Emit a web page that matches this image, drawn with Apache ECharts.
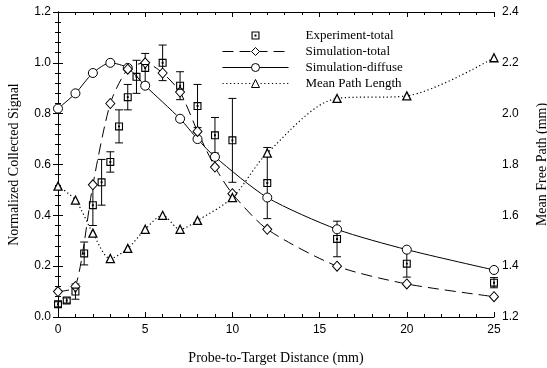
<!DOCTYPE html>
<html><head><meta charset="utf-8">
<script src="https://cdn.jsdelivr.net/npm/echarts@6/dist/echarts.min.js"></script>
<style>html,body{margin:0;padding:0;background:#fff}#c{width:547px;height:368px}</style>
</head><body><div id="c"></div>
<script>
// Experiment-total (with error bars)
const expX = [0, 0.5, 1, 1.5, 2, 2.5, 3, 3.5, 4, 4.5, 5, 6, 7, 8, 9, 10, 12, 16, 20, 25];
const expY = [0.05, 0.065, 0.10, 0.25, 0.44, 0.53, 0.61, 0.75, 0.865, 0.945, 0.98, 1.0, 0.91, 0.83, 0.715, 0.695, 0.527, 0.307, 0.21, 0.135];
const expErr = [0.01, 0.01, 0.03, 0.045, 0.08, 0.09, 0.04, 0.065, 0.05, 0.065, 0.057, 0.07, 0.055, 0.085, 0.07, 0.165, 0.14, 0.07, 0.053, 0.02];
// Simulation-total
const simTotX = [0, 1, 2, 3, 4, 5, 6, 7, 8, 9, 10, 12, 16, 20, 25];
const simTotY = [0.10, 0.12, 0.52, 0.84, 0.975, 1.0, 0.96, 0.885, 0.73, 0.59, 0.485, 0.345, 0.20, 0.13, 0.08];
// Simulation-diffuse
const simDifX = [0, 1, 2, 3, 4, 5, 7, 8, 9, 12, 16, 20, 25];
const simDifY = [0.82, 0.88, 0.96, 1.0, 0.98, 0.91, 0.78, 0.70, 0.63, 0.47, 0.345, 0.265, 0.185];
// Mean Path Length (right axis, mm)
const mplX = [0, 1, 2, 3, 4, 5, 6, 7, 8, 10, 12, 16, 20, 25];
const mplY = [1.715, 1.66, 1.53, 1.43, 1.47, 1.545, 1.60, 1.545, 1.58, 1.67, 1.845, 2.06, 2.07, 2.22];
// Axis ticks
const xTicks = {min: 0, max: 25, interval: 5};
const yLeftTicks = {min: 0, max: 1.2, interval: 0.2};
const yRightTicks = {min: 1.2, max: 2.4, interval: 0.2};

const zip = (xs, ys) => xs.map((x, i) => [x, ys[i]]);
const errData = expX.map((x, i) => [x, expY[i] - expErr[i], expY[i] + expErr[i]]);

const SANS = 'Liberation Sans, Arial, sans-serif';
const SERIF = 'Liberation Serif, Times New Roman, serif';
const axisCommon = {
  axisLine: {show: true, lineStyle: {color: '#000', width: 1}},
  axisTick: {show: true, inside: true, length: 5, lineStyle: {color: '#000'}},
  minorTick: {show: true, splitNumber: 5, length: 3, lineStyle: {color: '#000'}},
  splitLine: {show: false},
  minorSplitLine: {show: false},
  axisLabel: {color: '#000', fontFamily: SANS, fontSize: 12},
  nameTextStyle: {color: '#000', fontFamily: SERIF, fontSize: 14}
};
const squareSym = 'path://M0,0H10V10H0ZM1.4,1.4V8.6H8.6V1.4ZM3.8,3.8H6.2V6.2H3.8Z';
const hollow = {color: '#fff', borderColor: '#000', borderWidth: 1};

const chart = echarts.init(document.getElementById('c'), null, {renderer: 'canvas'});
chart.setOption({
  animation: false,
  backgroundColor: '#fff',
  grid: {left: 58, right: 53, top: 12, bottom: 51, containLabel: false, outerBoundsMode: 'none'},
  legend: {
    orient: 'vertical', left: 222, top: 29, padding: 0,
    itemWidth: 66, itemHeight: 10, itemGap: 3,
    selectedMode: false,
    lineStyle: {width: 1},
    itemStyle: {borderWidth: 1},
    data: [
      {name: 'Experiment-total', itemStyle: {borderWidth: 0}},
      'Simulation-total', 'Simulation-diffuse', 'Mean Path Length'
    ],
    textStyle: {fontFamily: SERIF, fontSize: 13, color: '#000', padding: [0, 0, 0, 12]}
  },
  xAxis: [
    Object.assign({}, axisCommon, {
      type: 'value', position: 'bottom', ...xTicks,
      axisLabel: Object.assign({}, axisCommon.axisLabel, {margin: 7}),
      name: 'Probe-to-Target Distance (mm)', nameLocation: 'middle', nameGap: 34
    }),
    Object.assign({}, axisCommon, {
      type: 'value', position: 'top', ...xTicks,
      axisLabel: {show: false}
    })
  ],
  yAxis: [
    Object.assign({}, axisCommon, {
      type: 'value', position: 'left', ...yLeftTicks,
      axisLabel: Object.assign({}, axisCommon.axisLabel, {margin: 7, formatter: v => v.toFixed(1)}),
      name: 'Normalized Collected Signal', nameLocation: 'middle', nameGap: 37, nameRotate: 90
    }),
    Object.assign({}, axisCommon, {
      type: 'value', position: 'right', ...yRightTicks,
      axisLabel: Object.assign({}, axisCommon.axisLabel, {margin: 8, formatter: v => v.toFixed(1)}),
      name: 'Mean Free Path (mm)', nameLocation: 'middle', nameGap: 41, nameRotate: 90
    })
  ],
  series: [
    {
      type: 'custom', name: 'err', xAxisIndex: 0, yAxisIndex: 0, z: 1,
      encode: {x: 0, y: [1, 2]},
      data: errData,
      renderItem(params, api) {
        const x = api.value(0), lo = api.value(1), hi = api.value(2);
        const p1 = api.coord([x, lo]), p2 = api.coord([x, hi]);
        const w = 4, st = {stroke: '#000', lineWidth: 1};
        return {type: 'group', children: [
          {type: 'line', shape: {x1: p1[0], y1: p1[1], x2: p2[0], y2: p2[1]}, style: st},
          {type: 'line', shape: {x1: p1[0] - w, y1: p1[1], x2: p1[0] + w, y2: p1[1]}, style: st},
          {type: 'line', shape: {x1: p2[0] - w, y1: p2[1], x2: p2[0] + w, y2: p2[1]}, style: st}
        ]};
      }
    },
    {
      type: 'line', name: 'Simulation-diffuse', xAxisIndex: 0, yAxisIndex: 0, z: 3,
      data: zip(simDifX, simDifY), smooth: 0.25,
      symbol: 'circle', symbolSize: 9, itemStyle: hollow,
      lineStyle: {color: '#000', width: 1, type: 'solid'}
    },
    {
      type: 'line', name: 'Simulation-total', xAxisIndex: 0, yAxisIndex: 0, z: 3,
      data: zip(simTotX, simTotY), smooth: 0.25,
      symbol: 'diamond', symbolSize: [9, 10], itemStyle: hollow,
      lineStyle: {color: '#000', width: 1, type: [11, 6]}
    },
    {
      type: 'line', name: 'Mean Path Length', xAxisIndex: 0, yAxisIndex: 1, z: 3,
      data: zip(mplX, mplY), smooth: 0.3,
      symbol: 'triangle', symbolSize: 8, itemStyle: {color: '#fff', borderColor: '#000', borderWidth: 1.3},
      lineStyle: {color: '#000', width: 1.2, type: [1.2, 2.6]}
    },
    {
      type: 'line', name: 'Experiment-total', xAxisIndex: 0, yAxisIndex: 0, z: 4,
      data: zip(expX, expY),
      symbol: squareSym, symbolSize: 8, itemStyle: {color: '#000'},
      lineStyle: {color: '#000', width: 0, opacity: 0}
    }
  ]
});
</script>
</body></html>
